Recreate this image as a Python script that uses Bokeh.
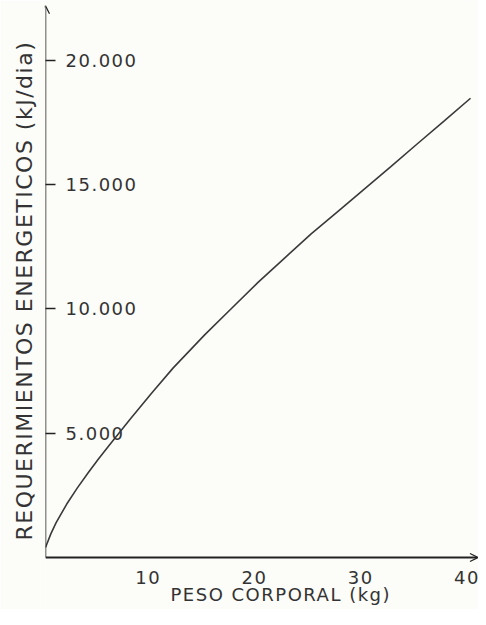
from bokeh.plotting import figure
from bokeh.models import Range1d, FixedTicker, Arrow, OpenHead, Title, InlineStyleSheet
from bokeh.core.properties import value
from bokeh.embed import file_html
from bokeh.resources import INLINE

# Data
peso_kg = [0, 0.5, 1, 2, 3, 4, 5, 6, 8, 10, 12, 15, 17.5, 20, 22.5, 25,
           27.5, 30, 32.5, 35, 37.5, 40]
energia_kj = [400, 950, 1400, 2150, 2800, 3400, 3970, 4520, 5580, 6620, 7620,
              8970, 10020, 11070, 12050, 13020, 13920, 14820, 15730, 16650,
              17560, 18480]

x_ticks = [10, 20, 30, 40]
x_tick_labels = ["10", "20", "30", "40"]
y_ticks = [5000, 10000, 15000, 20000]
y_tick_labels = ["5.000", "10.000", "15.000", "20.000"]

x_title = "PESO CORPORAL (kg)"
y_title = "REQUERIMIENTOS ENERGETICOS (kJ/dia)"

FONT = "DejaVu Sans"
INK = "#333333"
AX = "#222222"
BG = "#fcfcf9"

X_ARROW = 40.7
Y_ARROW = 22200

p = figure(width=478, height=609, x_range=Range1d(0, 40.75), y_range=Range1d(-2093, 22414),
           x_axis_location=None,
           output_backend="svg", toolbar_location=None,
           min_border_left=45, min_border_bottom=0, min_border_right=0, min_border_top=0)
p.stylesheets = [InlineStyleSheet(css=":host { letter-spacing: 1.5px; }")]
p.outline_line_color = None
p.grid.visible = False
p.background_fill_color = BG
p.border_fill_color = BG

# y axis: only inward ticks from Bokeh; line drawn as arrow
p.yaxis.ticker = FixedTicker(ticks=y_ticks)
p.yaxis.major_label_overrides = {t: "" for t in y_ticks}
p.yaxis.major_tick_in = 10
p.yaxis.major_tick_out = 0
p.yaxis.minor_tick_in = 0
p.yaxis.minor_tick_out = 0
p.yaxis.major_tick_line_width = 1.5
p.yaxis.major_tick_line_color = AX
p.yaxis.major_label_standoff = 0
p.yaxis.axis_line_color = None

# axis lines with arrow heads
p.add_layout(Arrow(end=OpenHead(size=8, line_width=1.2, line_color=AX),
                   x_start=0, y_start=0, x_end=0, y_end=Y_ARROW,
                   line_width=1.5, line_color=AX))
p.add_layout(Arrow(end=OpenHead(size=8, line_width=1.2, line_color=AX),
                   x_start=0, y_start=0, x_end=X_ARROW, y_end=0,
                   line_width=2, line_color=AX))

# tick labels
p.text(x=0, y=y_ticks, text=y_tick_labels, x_offset=20, text_baseline="middle",
       text_align="left", text_font=value(FONT), text_font_size="18px", text_color=INK)
p.text(x=x_ticks, y=0, text=x_tick_labels, x_offset=-5, y_offset=20, text_baseline="middle",
       text_align="center", text_font=value(FONT), text_font_size="18px", text_color=INK)

# curve
p.line(peso_kg, energia_kj, line_width=1.6, line_color="#3a3a3a")

# axis titles
p.text(x=0, y=0, text=[x_title], x_offset=125, y_offset=37, text_baseline="middle",
       text_align="left", text_font=value(FONT), text_font_size="18px", text_color=INK)
p.add_layout(Title(text=y_title, align="left", offset=69, standoff=18,
                   text_font=FONT, text_font_size="22px", text_font_style="normal",
                   text_color=INK), "left")

open("out.html", "w").write(file_html(p, INLINE))
